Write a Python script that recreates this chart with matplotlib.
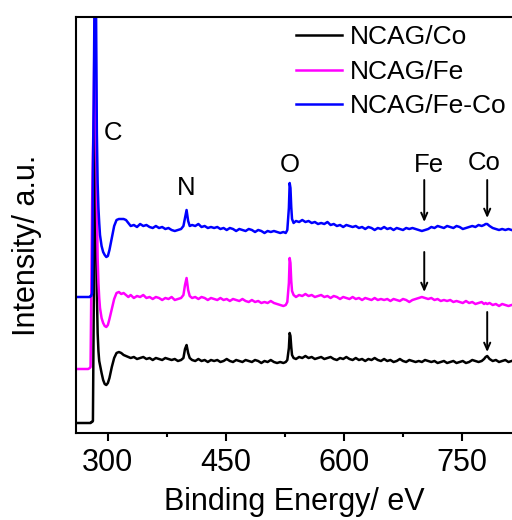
"""XPS survey spectra of NCAG/Co, NCAG/Fe and NCAG/Fe-Co."""
import matplotlib
matplotlib.use("Agg")
import matplotlib.pyplot as plt
from matplotlib.ticker import MultipleLocator

plt.rcParams["font.family"] = ["Liberation Sans", "DejaVu Sans"]

# binding energy (eV), shared by the three spectra
energy = [
    259, 268, 275, 277, 278, 279, 280, 281, 282, 283,
    284, 285, 286, 287, 288, 289, 290, 292, 294, 296,
    298, 300, 302, 305, 308, 311, 314, 317, 320, 323,
    326, 329, 333, 337, 341, 345, 349, 353, 357, 361,
    365, 369, 373, 377, 381, 385, 389, 393, 396, 398,
    400, 402, 404, 407, 411, 415, 419, 423, 427, 431,
    435, 439, 443, 447, 451, 455, 459, 463, 467, 471,
    475, 479, 483, 487, 491, 495, 499, 503, 507, 511,
    515, 519, 523, 526, 528, 530, 531, 532, 533, 534,
    536, 539, 543, 547, 551, 555, 559, 563, 567, 571,
    575, 579, 583, 587, 591, 595, 599, 603, 607, 611,
    615, 619, 623, 627, 631, 635, 639, 643, 647, 651,
    655, 659, 663, 667, 671, 675, 679, 683, 687, 691,
    695, 699, 703, 707, 711, 715, 719, 723, 727, 731,
    735, 739, 743, 747, 751, 755, 759, 763, 767, 771,
    775, 778, 780, 782, 785, 789, 793, 797, 801, 805,
    809, 813,
]

# intensities (a.u., already offset for stacking)
ncag_co = [
    10, 10, 10, 10, 10, 11, 11, 12, 120, 260,
    320, 220, 140, 100, 82, 72, 68, 60, 53, 49,
    48, 50, 55, 66, 75, 80, 81, 80, 78, 77,
    76, 75, 76, 74, 75, 76, 74, 75, 73, 75,
    74, 73, 75, 74, 73, 74, 72, 73, 75, 84,
    88, 80, 75, 73, 72, 74, 72, 73, 71, 73,
    72, 73, 71, 72, 74, 72, 71, 73, 72, 71,
    73, 72, 71, 73, 72, 70, 72, 71, 73, 71,
    70, 71, 70, 71, 73, 85, 100, 97, 86, 78,
    75, 74, 76, 75, 77, 75, 76, 74, 75, 76,
    74, 75, 76, 74, 73, 75, 74, 76, 74, 73,
    75, 73, 74, 72, 74, 73, 75, 73, 72, 74,
    72, 73, 71, 72, 74, 72, 71, 73, 72, 71,
    72, 71, 73, 72, 71, 72, 70, 71, 72, 70,
    71, 72, 70, 71, 72, 70, 71, 73, 72, 71,
    72, 74, 76, 77, 74, 72, 73, 71, 72, 73,
    71, 72,
]
ncag_fe = [
    64, 64, 64, 65, 66, 150, 230, 280, 320, 400,
    480, 320, 230, 175, 150, 135, 125, 115, 110, 107,
    106, 108, 114, 124, 134, 140, 141, 139, 140, 138,
    136, 138, 135, 137, 136, 138, 135, 136, 134, 136,
    135, 133, 135, 134, 136, 133, 134, 135, 138, 148,
    155, 143, 137, 135, 136, 134, 136, 135, 133, 135,
    134, 133, 135, 133, 134, 132, 134, 133, 132, 134,
    132, 131, 133, 131, 132, 130, 131, 130, 132, 130,
    129, 128, 127, 128, 131, 150, 175, 170, 152, 142,
    138, 136, 138, 137, 139, 137, 138, 136, 137, 138,
    136, 137, 135, 137, 136, 134, 136, 135, 134, 136,
    134, 135, 133, 135, 134, 133, 135, 133, 134, 133,
    134, 132, 134, 133, 132, 134, 133, 131, 133, 134,
    135, 136, 135, 134, 135, 133, 134, 132, 133, 132,
    133, 131, 132, 131, 130, 132, 130, 131, 129, 130,
    131, 129, 130, 129, 130, 128, 129, 127, 129, 128,
    127, 128,
]
ncag_feco = [
    136, 136, 136, 136, 137, 137, 140, 260, 330, 420,
    1200, 420, 300, 250, 225, 210, 198, 187, 181, 178,
    176, 177, 183, 195, 207, 213, 214, 214, 214, 213,
    210, 207, 208, 206, 209, 207, 208, 206, 205, 207,
    205, 206, 204, 205, 203, 202, 203, 204, 207, 215,
    223, 212, 207, 208, 207, 209, 206, 207, 205, 206,
    205, 206, 204, 205, 203, 205, 204, 202, 204, 203,
    202, 204, 203, 201, 203, 202, 200, 202, 201, 202,
    201, 200, 201, 200, 203, 225, 250, 245, 226, 214,
    210, 212, 211, 213, 211, 212, 210, 211, 209, 210,
    209, 211, 208, 209, 207, 208, 206, 208, 207, 206,
    207, 205, 206, 204, 206, 205, 203, 205, 204, 206,
    204, 205, 203, 205, 204, 203, 205, 204, 205, 204,
    203, 202, 203, 204, 206, 205, 207, 206, 205, 207,
    206, 205, 207, 206, 204, 205, 206, 207, 206, 208,
    207, 208, 209, 209, 207, 205, 204, 203, 204, 203,
    204, 203,
]

series_names = ["NCAG/Co", "NCAG/Fe", "NCAG/Fe-Co"]
series_colors = ["black", "#ff00ff", "#0000ff"]

# element labels: (text, energy, height)
peak_labels = [("C", 307, 300), ("N", 399, 245), ("O", 531, 268),
               ("Fe", 708, 268), ("Co", 778, 270)]
# marker arrows: (energy, tail height, head height)
arrows = [(702, 253, 211), (782, 253, 215), (702, 181, 141), (782, 121, 81)]

fig = plt.figure(figsize=(5.12, 5.2), dpi=100)
ax = fig.add_axes([76 / 512, 87 / 520, 436 / 512, 416 / 520])

for ys, name, c in zip([ncag_co, ncag_fe, ncag_feco], series_names, series_colors):
    ax.plot(energy, ys, color=c, lw=1.8, label=name)

for txt, x, y in peak_labels:
    ax.text(x, y, txt, fontsize=18.5, ha="center", va="center")

for x, y0, y1 in arrows:
    ax.annotate("", xy=(x, y1), xytext=(x, y0),
                arrowprops=dict(arrowstyle="->,head_length=0.5,head_width=0.22",
                                color="black", lw=1.4, shrinkA=0, shrinkB=0))

ax.set_xlim(259.5, 813.5)
ax.set_ylim(0, 416)
ax.xaxis.set_minor_locator(MultipleLocator(75))
ax.set_xticks([300, 450, 600, 750])
ax.set_yticks([])
ax.tick_params(axis="x", which="major", direction="out", length=5.5, width=1.5,
               labelsize=22, pad=5)
ax.tick_params(axis="x", which="minor", direction="out", length=3, width=1.5)
for side in ["left", "top", "bottom"]:
    ax.spines[side].set_linewidth(1.5)
ax.spines["right"].set_visible(False)

ax.set_xlabel("Binding Energy/ eV", fontsize=22, labelpad=7)
fig.text(27 / 512, 1 - 245 / 520, "Intensity/ a.u.", fontsize=22,
         rotation=90, ha="center", va="center")

ax.legend(loc="upper left", bbox_to_anchor=(0.505, 0.98), frameon=False,
          fontsize=19, handlelength=1.74, handletextpad=0.3, labelspacing=0.4,
          borderpad=0, borderaxespad=0)

fig.savefig("out.png", dpi=100)
